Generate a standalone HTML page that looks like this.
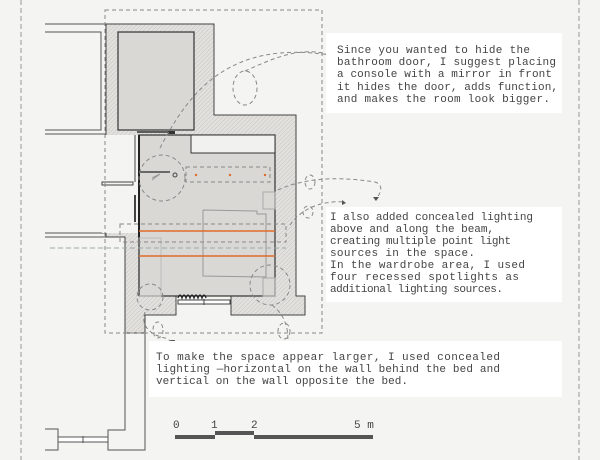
<!DOCTYPE html>
<html><head><meta charset="utf-8"><style>
html,body{margin:0;padding:0;background:#f4f4f2;}
svg{display:block;}
text{font-family:"Liberation Mono",monospace;fill:#444;font-size:11px;}
</style></head><body>
<svg width="600" height="460" viewBox="0 0 600 460" xmlns="http://www.w3.org/2000/svg">
<defs>
<pattern id="h" width="3" height="3" patternUnits="userSpaceOnUse" patternTransform="rotate(45)">
<rect width="3" height="3" fill="#e2e1de"/><line x1="0" y1="0" x2="0" y2="3" stroke="#bdbcb8" stroke-width="0.8"/>
</pattern>
</defs>
<rect width="600" height="460" fill="#f4f4f2"/>
<line x1="21" y1="0" x2="21" y2="460" stroke="#999" stroke-width="1" stroke-dasharray="5,3"/>
<line x1="579" y1="0" x2="579" y2="460" stroke="#999" stroke-width="1" stroke-dasharray="5,3"/>
<g stroke="#555" stroke-width="1" fill="none">
<line x1="45" y1="24" x2="106" y2="24"/>
<polyline points="45,32 101,32 101,130 45,130"/>
<line x1="45" y1="134" x2="137" y2="134"/>
<line x1="45" y1="233" x2="125" y2="233"/>
<polyline points="45,237 125,237 125,430 108,430 108,450 145,450 145,315"/>
<polyline points="45,429 58,429 58,450 45,450"/>
<rect x="58" y="437" width="50" height="5" fill="#fff"/>
<line x1="83" y1="436" x2="83" y2="443"/>
</g>
<polygon points="106,24 214,24 214,115 296,115 296,296 305,296 305,315 231,315 231,296 176,296 176,315 145,315 145,333 125,333 125,237 106,237" fill="url(#h)" stroke="#444" stroke-width="1"/>
<rect x="102" y="135" width="37" height="98" fill="#f4f4f2"/>
<rect x="118" y="32" width="76" height="98" fill="#d9d8d5" stroke="#333" stroke-width="1.2"/>
<rect x="139" y="135" width="136" height="161" fill="#d9d8d5" stroke="#333" stroke-width="1.2"/>
<rect x="191" y="135" width="84" height="18" fill="#f1f1ef" stroke="#333" stroke-width="1"/>
<line x1="139" y1="135" x2="139" y2="296" stroke="#222" stroke-width="2"/>
<line x1="137" y1="132" x2="172" y2="132" stroke="#333" stroke-width="1.5"/>
<rect x="168" y="131" width="7" height="3" fill="#333"/>
<g stroke="#444" fill="none" stroke-width="1">
<rect x="102" y="182" width="31" height="3" fill="#f4f4f2"/>
<line x1="135" y1="135" x2="135" y2="182"/>
<line x1="135" y1="195" x2="135" y2="222" stroke-width="2"/>
<line x1="140" y1="172" x2="170" y2="172" stroke-width="1.5"/>
<circle cx="175" cy="175" r="2"/>
<polyline points="152,180 160,174 152,178" stroke="#999"/>
<polyline points="203,210 257,211 257,214 266,214 266,277 203,276 203,210" stroke="#999"/>
<rect x="263" y="192" width="12" height="17" stroke="#aaa"/>
<rect x="263" y="278" width="12" height="18" stroke="#aaa"/>
<rect x="139" y="238" width="22" height="58" stroke="#bbb"/>
</g>
<rect x="178" y="300" width="52" height="4" fill="#fff" stroke="#444"/>
<line x1="204" y1="299" x2="204" y2="305" stroke="#444"/>
<path d="M178,298 q2,-6 4,0 q2,-6 4,0 q2,-6 4,0 q2,-6 4,0 q2,-6 4,0 q2,-6 4,0 q2,-6 4,0" fill="none" stroke="#222" stroke-width="1.3"/>
<line x1="139" y1="231" x2="275" y2="231" stroke="#e06a2c" stroke-width="1.5"/>
<line x1="139" y1="256" x2="275" y2="256" stroke="#e06a2c" stroke-width="1.5"/>
<line x1="50" y1="248" x2="286" y2="248" stroke="#9aa" stroke-width="1" stroke-dasharray="5,3"/>
<g fill="none" stroke="#888" stroke-dasharray="4,3" stroke-width="1">
<rect x="186" y="167" width="84" height="15"/>
<rect x="120" y="224" width="166" height="18"/>
<rect x="105" y="10" width="217" height="323"/>
<circle cx="162" cy="178" r="23"/>
<circle cx="150" cy="297" r="13"/>
<circle cx="270" cy="285" r="20"/>
<ellipse cx="245" cy="88" rx="12" ry="17"/>
<path d="M160,148 C190,90 230,40 330,55"/>
<path d="M245,71 C270,60 300,45 330,55"/>
<path d="M278,190 C300,180 330,175 375,182 C385,185 380,195 375,200"/>
<path d="M290,225 C300,210 320,200 345,202"/>
<ellipse cx="310" cy="182" rx="5" ry="7"/>
<ellipse cx="308" cy="212" rx="5" ry="6"/>
<path d="M145,312 C140,325 150,335 165,338 L173,342"/>
<ellipse cx="158" cy="330" rx="5" ry="8"/>
<ellipse cx="284" cy="331" rx="6" ry="8"/>
<path d="M272,305 C285,315 290,330 287,347"/>
</g>
<g fill="#555">
<polygon points="331,55 326,52 327,58"/>
<polygon points="376,201 373,197 379,197"/>
<polygon points="346,203 342,200 342,205"/>
<polygon points="174,344 170,340 175,340"/>
<polygon points="287,350 284,346 290,346"/>
</g>
<g fill="#e06a2c">
<circle cx="196" cy="175" r="1.2"/><circle cx="230" cy="175" r="1.2"/><circle cx="265" cy="175" r="1.2"/>
</g>
<rect x="326" y="33" width="236" height="80" fill="#fff"/>
<text x="337" y="53" textLength="193">Since you wanted to hide the</text>
<text x="337" y="65" textLength="219">bathroom door, I suggest placing</text>
<text x="337" y="77" textLength="215">a console with a mirror in front</text>
<text x="337" y="90" textLength="221">it hides the door, adds function,</text>
<text x="337" y="102" textLength="213">and makes the room look bigger.</text>
<rect x="326" y="207" width="236" height="95" fill="#fff"/>
<text x="330" y="220" textLength="203">I also added concealed lighting</text>
<text x="330" y="232" textLength="164">above and along the beam,</text>
<text x="330" y="244" textLength="181">creating multiple point light</text>
<text x="330" y="256" textLength="145">sources in the space.</text>
<text x="330" y="268" textLength="195">In the wardrobe area, I used</text>
<text x="330" y="280" textLength="189">four recessed spotlights as</text>
<text x="330" y="292" textLength="173">additional lighting sources.</text>
<rect x="149" y="341" width="413" height="56" fill="#fff"/>
<text x="156" y="360" textLength="344">To make the space appear larger, I used concealed</text>
<text x="156" y="372" textLength="344">lighting  —horizontal on the wall behind the bed and</text>
<text x="156" y="384" textLength="252">vertical on the wall opposite the bed.</text>
<text x="173" y="428">0</text>
<text x="211" y="428">1</text>
<text x="251" y="428">2</text>
<text x="354" y="428">5 m</text>
<rect x="175" y="435" width="40" height="4" fill="#555"/>
<rect x="215" y="431" width="39" height="4" fill="#555"/>
<rect x="254" y="435" width="119" height="4" fill="#555"/>
</svg>
</body></html>
